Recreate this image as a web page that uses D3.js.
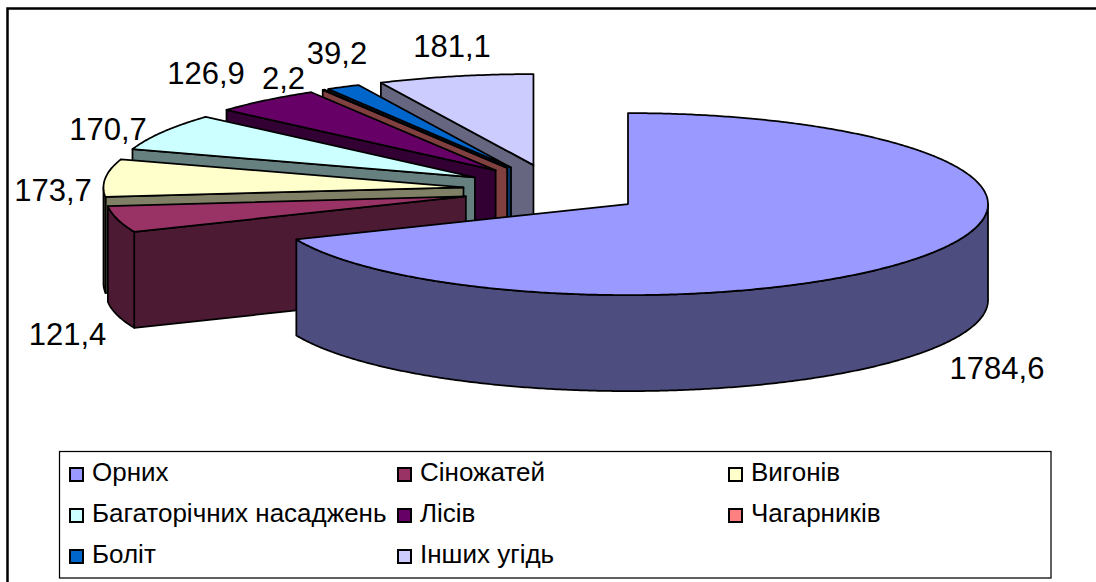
<!DOCTYPE html>
<meta charset="utf-8">
<script src="https://d3js.org/d3.v7.min.js"></script>
<style>
  body { margin: 0; background: #fff; }
  svg { display: block; font-family: "Liberation Sans", Arial, sans-serif; }
  text { fill: #000; }
  .value { font-size: 31px; }
  .legend { font-size: 26px; }
</style>
<body>
<div id="chart"></div>
<script>
// data
var categories = ["Орних", "Сіножатей", "Вигонів", "Багаторічних насаджень", "Лісів", "Чагарників", "Боліт", "Інших угідь"];
var values = [1784.6, 121.4, 173.7, 170.7, 126.9, 2.2, 39.2, 181.1];
var valueLabels = ["1784,6", "121,4", "173,7", "170,7", "126,9", "2,2", "39,2", "181,1"];
var colors = ["#9999FF", "#993366", "#FFFFCC", "#CCFFFF", "#660066", "#FF8080", "#0066CC", "#CCCCFF"];

// layout
var width = 1096, height = 582;
var cx = 553, cy = 190;      // pie centre before the slices are pulled out
var rx = 360, ry = 91;       // ellipse of the top face
var depth = 96;
var pullX = 90, pullY = 25.5;
var labelPos = [[997, 379], [67.5, 345], [53, 201], [108, 140], [206, 84], [283.5, 89], [337, 64], [452, 57]];
var legendCols = [70, 398, 729], legendRows = [474, 515, 556];

var svg = d3.select("#chart").append("svg")
    .attr("width", width)
    .attr("height", height);

// chart frame, right and bottom sides run off the picture
svg.append("rect")
    .attr("x", 7.5).attr("y", 8.5)
    .attr("width", 1100).attr("height", 590)
    .attr("fill", "#fff").attr("stroke", "#000").attr("stroke-width", 2.5);

var pie = d3.pie().sort(null).value(function(d) { return d; });
var slices = pie(values).map(function(d, i) {
  var mid = (d.startAngle + d.endAngle) / 2;
  return {
    i: i,
    a0: d.startAngle,
    a1: d.endAngle,
    x: cx + pullX * Math.sin(mid),
    y: cy - pullY * Math.cos(mid)
  };
});

var line = d3.line();

function rim(s, a, drop) {
  return [s.x + rx * Math.sin(a), s.y - ry * Math.cos(a) + (drop || 0)];
}

function arcPoints(s, a0, a1, drop) {
  var n = Math.max(2, Math.ceil((a1 - a0) * 120));
  return d3.range(n + 1).map(function(k) {
    return rim(s, a0 + (a1 - a0) * k / n, drop);
  });
}

// back slices first, big slice last
var order = slices.slice(1).reverse().concat(slices[0]);

var g = svg.append("g")
    .attr("stroke", "#000")
    .attr("stroke-width", 1.75)
    .attr("stroke-linejoin", "round");

order.forEach(function(s) {
  var c = d3.rgb(colors[s.i]);
  var dark = d3.rgb(c.r / 2, c.g / 2, c.b / 2).formatHex();

  // cut wall on the start edge, only on the left half
  if (s.a0 > Math.PI) {
    var e = rim(s, s.a0);
    g.append("path")
        .attr("fill", dark)
        .attr("d", line([[s.x, s.y], e, [e[0], e[1] + depth], [s.x, s.y + depth]]) + "Z");
  }

  // outer wall, only the front half of the ellipse shows
  var w0 = Math.max(s.a0, Math.PI / 2), w1 = Math.min(s.a1, Math.PI * 1.5);
  if (w1 > w0) {
    g.append("path")
        .attr("fill", dark)
        .attr("d", line(arcPoints(s, w0, w1).concat(arcPoints(s, w0, w1, depth).reverse())) + "Z");
  }

  // top face
  g.append("path")
      .attr("fill", colors[s.i])
      .attr("d", line([[s.x, s.y]].concat(arcPoints(s, s.a0, s.a1))) + "Z");
});

// value labels
svg.selectAll("text.value")
    .data(valueLabels)
    .enter().append("text")
    .attr("class", "value")
    .attr("text-anchor", "middle")
    .attr("x", function(d, i) { return labelPos[i][0]; })
    .attr("y", function(d, i) { return labelPos[i][1]; })
    .text(function(d) { return d; });

// legend
svg.append("rect")
    .attr("x", 59.5).attr("y", 451.5)
    .attr("width", 991.5).attr("height", 126.5)
    .attr("fill", "#fff").attr("stroke", "#000").attr("stroke-width", 1.25);

var items = svg.selectAll("g.item")
    .data(categories)
    .enter().append("g")
    .attr("class", "item")
    .attr("transform", function(d, i) {
      return "translate(" + legendCols[i % 3] + "," + legendRows[Math.floor(i / 3)] + ")";
    });

items.append("rect")
    .attr("x", 0).attr("y", -6)
    .attr("width", 13).attr("height", 13)
    .attr("fill", function(d, i) { return colors[i]; })
    .attr("stroke", "#000").attr("stroke-width", 2);

items.append("text")
    .attr("class", "legend")
    .attr("x", 22)
    .attr("y", 7)
    .text(function(d) { return d; });
</script>
</body>
